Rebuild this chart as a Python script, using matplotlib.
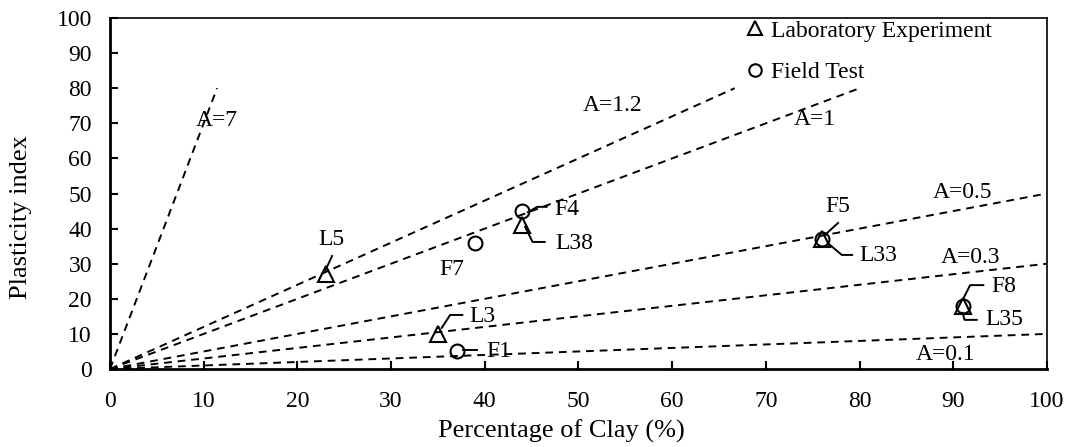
import matplotlib.pyplot as plt
import numpy as np

plt.rcParams['font.family'] = ['Liberation Serif', 'DejaVu Serif']

# activity lines PI = A * clay, each drawn up to its end clay %
activity = [7, 1.2, 1, 0.5, 0.3, 0.1]
line_end_clay = [80 / 7, 80 / 1.2, 80, 100, 100, 100]
act_label_pos = [(11.4, 70.9), (53.6, 75.2), (75.2, 71.0), (91.0, 50.4), (91.8, 31.8), (89.2, 4.0)]

# laboratory experiment points
lab_names = ['L5', 'L38', 'L3', 'L33', 'L35']
lab_clay = [23, 44, 35, 76, 91]
lab_pi = [27, 41, 10, 37, 18]

# field test points
field_names = ['F4', 'F7', 'F1', 'F5', 'F8']
field_clay = [44, 39, 37, 76, 91]
field_pi = [45, 36, 5, 37, 18]

# label text position (left edge, centre) and leader path
lab_text = {'L5': (22.2, 36.8), 'L38': (47.5, 35.8), 'L3': (38.4, 15.0), 'L33': (80.0, 32.2), 'L35': (93.4, 14.0)}
lab_leader = {'L5': [(23.0, 28.2), (23.7, 32.2)],
              'L38': [(44.3, 40.5), (45.1, 36.2), (46.4, 36.2)],
              'L3': [(35.4, 11.7), (36.3, 15.4), (37.6, 15.4)],
              'L33': [(76.6, 35.9), (78.1, 32.5), (79.2, 32.5)],
              'L35': [(91.0, 16.0), (91.2, 14.0), (92.5, 14.0)]}
field_text = {'F4': (47.4, 45.4), 'F7': (35.2, 28.3), 'F1': (40.2, 5.0), 'F5': (76.3, 46.3), 'F8': (94.1, 23.5)}
field_leader = {'F4': [(44.6, 44.7), (45.6, 46.2), (46.6, 46.2)],
                'F5': [(76.3, 38.2), (77.7, 41.6)],
                'F8': [(91.0, 19.7), (91.8, 23.9), (93.2, 23.9)],
                'F1': [(37.7, 5.4), (39.2, 5.4)]}

fs = 17

fig = plt.figure(figsize=(10.7, 4.47), dpi=100)
ax = fig.add_axes([0.1028, 0.1745, 0.8757, 0.7852])

for a, xe in zip(activity, line_end_clay):
    xs = np.array([0, xe])
    ax.plot(xs, a * xs, color='black', linestyle=(0, (4, 3)), linewidth=1.4, zorder=2)
for a, (tx, ty) in zip(activity, act_label_pos):
    ax.text(tx, ty, 'A=%g' % a, fontsize=fs, ha='center', va='center', zorder=3)

ax.plot(lab_clay, lab_pi, linestyle='none', marker='^', markersize=11, markerfacecolor='none',
        markeredgecolor='black', markeredgewidth=1.5, label='Laboratory Experiment', zorder=4)
ax.plot(field_clay, field_pi, linestyle='none', marker='o', markersize=10, markerfacecolor='none',
        markeredgecolor='black', markeredgewidth=1.5, label='Field Test', zorder=4)

for name in lab_names:
    tx, ty = lab_text[name]
    ax.text(tx, ty, name, fontsize=fs, ha='left', va='center')
    pts = np.array(lab_leader[name])
    ax.plot(pts[:, 0], pts[:, 1], color='black', linewidth=1.4)
for name in field_names:
    tx, ty = field_text[name]
    ax.text(tx, ty, name, fontsize=fs, ha='left', va='center')
    if name in field_leader:
        pts = np.array(field_leader[name])
        ax.plot(pts[:, 0], pts[:, 1], color='black', linewidth=1.4)

ax.set_xlim(0, 100)
ax.set_ylim(0, 100)
ax.set_xticks(np.arange(0, 101, 10))
ax.set_yticks(np.arange(0, 101, 10))
ax.tick_params(direction='in', length=6, width=1.5, labelsize=fs)
ax.tick_params(axis='x', pad=16)
ax.tick_params(axis='y', pad=13)
for side in ['left', 'bottom']:
    ax.spines[side].set_linewidth(2)
for side in ['top', 'right']:
    ax.spines[side].set_linewidth(1.2)

ax.set_xlabel('Percentage of Clay (%)', fontsize=19)
ax.set_ylabel('Plasticity index', fontsize=19)
ax.xaxis.set_label_coords(0.482, -0.145)
ax.yaxis.set_label_coords(-0.083, 0.433)

ax.legend(loc='upper left', bbox_to_anchor=(0.6756, 0.994), frameon=False, fontsize=fs,
          handletextpad=0.2, handlelength=1.0, labelspacing=0.85, borderpad=0,
          borderaxespad=0, markerscale=0.9)

fig.savefig('out.png', dpi=100)
